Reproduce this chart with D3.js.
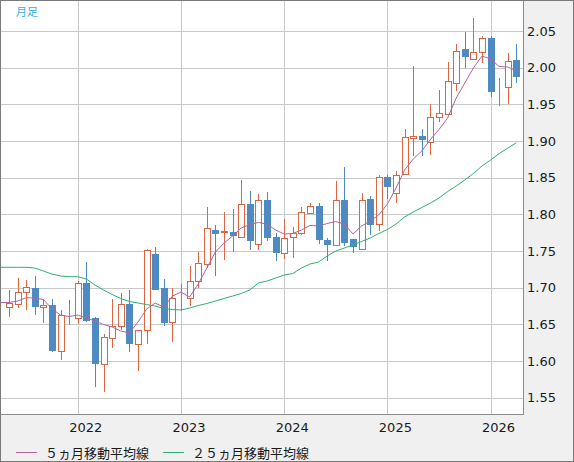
<!DOCTYPE html>
<html>
<head>
<meta charset="utf-8">
<script src="https://cdn.jsdelivr.net/npm/d3@7"></script>
<style>
  body { margin: 0; background: #f0f0f0; }
  svg { display: block; }
</style>
</head>
<body>
<svg id="chart"></svg>
<script>
// monthly candles, May 2021 .. Apr 2026
const months = [
  "2021-05","2021-06","2021-07","2021-08","2021-09","2021-10","2021-11","2021-12",
  "2022-01","2022-02","2022-03","2022-04","2022-05","2022-06","2022-07","2022-08","2022-09","2022-10","2022-11","2022-12",
  "2023-01","2023-02","2023-03","2023-04","2023-05","2023-06","2023-07","2023-08","2023-09","2023-10","2023-11","2023-12",
  "2024-01","2024-02","2024-03","2024-04","2024-05","2024-06","2024-07","2024-08","2024-09","2024-10","2024-11","2024-12",
  "2025-01","2025-02","2025-03","2025-04","2025-05","2025-06","2025-07","2025-08","2025-09","2025-10","2025-11","2025-12",
  "2026-01","2026-02","2026-03","2026-04"
];
const opens = [
  1.6743,1.6784,1.6946,1.6991,1.6739,1.6770,1.6135,1.6623,
  1.6581,1.7068,1.6581,1.5955,1.6309,1.6473,1.6777,1.6236,1.6418,1.7459,1.6995,1.6527,
  1.6855,1.6855,1.7086,1.7323,1.7791,1.7755,1.7764,1.7691,1.8145,1.7600,1.8200,1.7691,
  1.7473,1.7691,1.7741,1.8018,1.8114,1.7650,1.7586,1.8195,1.7664,1.7532,1.8209,1.7863,
  1.8511,1.8288,1.8548,1.9036,1.9073,1.8982,1.9329,1.9365,1.9795,2.0251,2.0114,2.0209,
  2.0405,1.9680,1.9741,2.0105
];
const highs = [
  1.6970,1.7130,1.7099,1.7153,1.6850,1.6842,1.6694,1.6829,
  1.7086,1.7356,1.6600,1.6368,1.6845,1.6927,1.6968,1.6423,1.7523,1.7559,1.7118,1.6995,
  1.7050,1.7295,1.7490,1.8105,1.7859,1.8027,1.8077,1.8473,1.8323,1.8273,1.8300,1.7741,
  1.7936,1.7830,1.8105,1.8150,1.8155,1.7680,1.8450,1.8650,1.7664,1.8291,1.8255,1.8539,
  1.8539,1.8594,1.9164,2.0023,1.9164,1.9498,1.9689,2.0078,2.0320,2.0486,2.0682,2.0432,
  2.0432,1.9855,2.0205,2.0323
];
const lows = [
  1.6604,1.6720,1.6694,1.6626,1.6523,1.6117,1.6018,1.6491,
  1.6505,1.6530,1.5644,1.5582,1.6173,1.6420,1.6127,1.5868,1.6227,1.6968,1.6477,1.6264,
  1.6680,1.6750,1.7000,1.7270,1.7155,1.7382,1.7486,1.7690,1.7518,1.7509,1.7640,1.7368,
  1.7396,1.7405,1.7723,1.8000,1.7600,1.7368,1.7570,1.7570,1.7477,1.7514,1.7723,1.7776,
  1.8205,1.8160,1.8540,1.8790,1.8790,1.8813,1.9264,1.9360,1.9680,1.9991,2.0110,2.0059,
  1.9595,1.9482,1.9500,1.9786
];
const closes = [
  1.6793,1.6946,1.7014,1.6739,1.6770,1.6130,1.6626,1.6628,
  1.7068,1.6550,1.5960,1.6323,1.6473,1.6773,1.6236,1.6423,1.7509,1.6968,1.6523,1.6855,
  1.6860,1.7091,1.7336,1.7814,1.7732,1.7777,1.7700,1.8145,1.7632,1.8195,1.7673,1.7469,
  1.7677,1.7741,1.8032,1.8114,1.7645,1.7582,1.8191,1.7609,1.7550,1.8191,1.7855,1.8507,
  1.8379,1.8534,1.9055,1.9073,1.9009,1.9329,1.9384,1.9822,2.0233,2.0146,2.0209,2.0400,
  1.9673,1.9686,2.0095,1.9877
];
// moving averages
const ma5 = [
  1.6798,1.6818,1.6863,1.6859,1.6839,1.6709,1.6627,1.6607,
  1.6627,1.6586,1.6546,1.6498,1.6464,1.6409,1.6382,1.6532,1.6709,1.6791,1.6736,1.6886,
  1.6941,1.6873,1.7050,1.7268,1.7486,1.7609,1.7705,1.7814,1.7861,1.7889,1.7868,1.7786,
  1.7732,1.7739,1.7786,1.7848,1.7841,1.7875,1.7902,1.7868,1.7732,1.7841,1.7909,1.7991,
  1.8141,1.8359,1.8604,1.8754,1.8864,1.9020,1.9157,1.9313,1.9586,1.9791,1.9995,2.0159,
  2.0118,2.0016,2.0009,1.9954
];
const ma25 = [
  1.7278,1.7278,1.7278,1.7268,1.7227,1.7186,1.7159,1.7150,
  1.7150,1.7118,1.7036,1.6968,1.6907,1.6852,1.6811,1.6791,1.6770,1.6750,1.6716,1.6702,
  1.6696,1.6723,1.6757,1.6784,1.6818,1.6852,1.6886,1.6921,1.6968,1.7064,1.7091,1.7132,
  1.7173,1.7193,1.7268,1.7323,1.7350,1.7432,1.7500,1.7541,1.7582,1.7630,1.7677,1.7739,
  1.7793,1.7868,1.7964,1.8032,1.8093,1.8154,1.8223,1.8311,1.8386,1.8468,1.8557,1.8659,
  1.8741,1.8829,1.8904,1.8977
];
const yTicks = [1.55,1.60,1.65,1.70,1.75,1.80,1.85,1.90,1.95,2.00,2.05];
const yearTicks = ["2022-01","2023-01","2024-01","2025-01","2026-01"];
const legendItems = ["５ヵ月移動平均線", "２５ヵ月移動平均線"];

const width = 574, height = 462;
const plotRight = 523, plotBottom = 414;

const svg = d3.select("#chart")
    .attr("width", width)
    .attr("height", height);

svg.append("rect")
    .attr("width", width).attr("height", height)
    .attr("fill", "#f0f0f0");

svg.append("rect")
    .attr("x", 1).attr("y", 1)
    .attr("width", plotRight - 1).attr("height", plotBottom - 1)
    .attr("fill", "#fff");

const x = d3.scalePoint()
    .domain(months)
    .range([9, 516.4]);

const y = d3.scaleLinear()
    .domain([1.55, 2.05])
    .range([397.7, 31]);

const px = m => Math.round(x(m)) + 0.5;
const py = v => Math.round(y(v)) + 0.5;

// grid
svg.append("g")
    .selectAll("line")
    .data(yTicks)
    .enter()
    .append("line")
    .attr("x1", 1).attr("x2", plotRight)
    .attr("y1", d => py(d)).attr("y2", d => py(d))
    .attr("stroke", "#c8c8c8");

svg.append("g")
    .selectAll("line")
    .data(yearTicks)
    .enter()
    .append("line")
    .attr("x1", d => px(d)).attr("x2", d => px(d))
    .attr("y1", 1).attr("y2", plotBottom)
    .attr("stroke", "#c8c8c8");

// candles
const candles = months.map((m, i) => ({
    month: m, open: opens[i], high: highs[i], low: lows[i], close: closes[i]
}));
const upColor = "#dc6542", downColor = "#4d8bc2";

const cg = svg.append("g");
cg.selectAll(".wick")
    .data(candles)
    .enter()
    .append("line")
    .attr("class", "wick")
    .attr("x1", d => px(d.month)).attr("x2", d => px(d.month))
    .attr("y1", d => Math.round(y(d.high)))
    .attr("y2", d => Math.round(y(d.low)))
    .attr("stroke", d => d.close >= d.open ? upColor : downColor);

cg.selectAll(".up")
    .data(candles.filter(d => d.close >= d.open))
    .enter()
    .append("rect")
    .attr("class", "up")
    .attr("x", d => px(d.month) - 3)
    .attr("y", d => py(d.close))
    .attr("width", 6)
    .attr("height", d => Math.max(0, py(d.open) - py(d.close)))
    .attr("fill", "#fff")
    .attr("stroke", upColor);

cg.selectAll(".down")
    .data(candles.filter(d => d.close < d.open))
    .enter()
    .append("rect")
    .attr("class", "down")
    .attr("x", d => px(d.month) - 3.5)
    .attr("y", d => Math.round(y(d.open)))
    .attr("width", 7)
    .attr("height", d => Math.max(1, Math.round(y(d.close)) - Math.round(y(d.open))))
    .attr("fill", downColor);

// moving averages, run flat to the left edge of the plot
const maPoints = values => [[1, y(values[0])]]
    .concat(values.map((v, i) => [x(months[i]), y(v)]));

svg.append("path")
    .attr("d", d3.line()(maPoints(ma25)))
    .attr("fill", "none")
    .attr("stroke", "#2fb072")
    .attr("stroke-width", 1);

svg.append("path")
    .attr("d", d3.line()(maPoints(ma5)))
    .attr("fill", "none")
    .attr("stroke", "#b4649c")
    .attr("stroke-width", 1);

// frame
svg.append("line")
    .attr("x1", plotRight + 0.5).attr("x2", plotRight + 0.5)
    .attr("y1", 0).attr("y2", plotBottom + 1)
    .attr("stroke", "#8c8c8c");
svg.append("line")
    .attr("x1", 0).attr("x2", plotRight + 1)
    .attr("y1", plotBottom + 0.5).attr("y2", plotBottom + 0.5)
    .attr("stroke", "#8c8c8c");
svg.append("rect")
    .attr("x", 0.5).attr("y", 0.5)
    .attr("width", width - 1).attr("height", height - 1)
    .attr("fill", "none")
    .attr("stroke", "#7a7a7a");

// y labels
svg.append("g")
    .selectAll("text")
    .data(yTicks)
    .enter()
    .append("text")
    .attr("x", 527)
    .attr("y", d => y(d))
    .attr("dy", "0.36em")
    .attr("font-family", "DejaVu Sans")
    .attr("font-size", 13)
    .attr("fill", "#1a1a1a")
    .text(d => d.toFixed(2));

// x labels
svg.append("g")
    .selectAll("text")
    .data(yearTicks)
    .enter()
    .append("text")
    .attr("x", d => x(d) + 8)
    .attr("y", 432)
    .attr("text-anchor", "middle")
    .attr("font-family", "DejaVu Sans")
    .attr("font-size", 13)
    .attr("fill", "#1a1a1a")
    .text(d => d.slice(0, 4));

// 月足 label
svg.append("text")
    .attr("x", 16).attr("y", 16)
    .attr("font-family", "Noto Sans CJK JP")
    .attr("font-size", 11)
    .attr("fill", "#33b0ea")
    .text("月足");

// legend
const legendColors = ["#b4649c", "#2fb072"];
const legendX = [16, 163];
const lg = svg.append("g");
legendItems.forEach((label, i) => {
    lg.append("line")
        .attr("x1", legendX[i]).attr("x2", legendX[i] + 21)
        .attr("y1", 452.5).attr("y2", 452.5)
        .attr("stroke", legendColors[i]);
    lg.append("text")
        .attr("x", legendX[i] + 29)
        .attr("y", 457.5)
        .attr("font-family", "Noto Sans CJK JP")
        .attr("font-size", 13)
        .attr("fill", "#1a1a1a")
        .text(label);
});
</script>
</body>
</html>
